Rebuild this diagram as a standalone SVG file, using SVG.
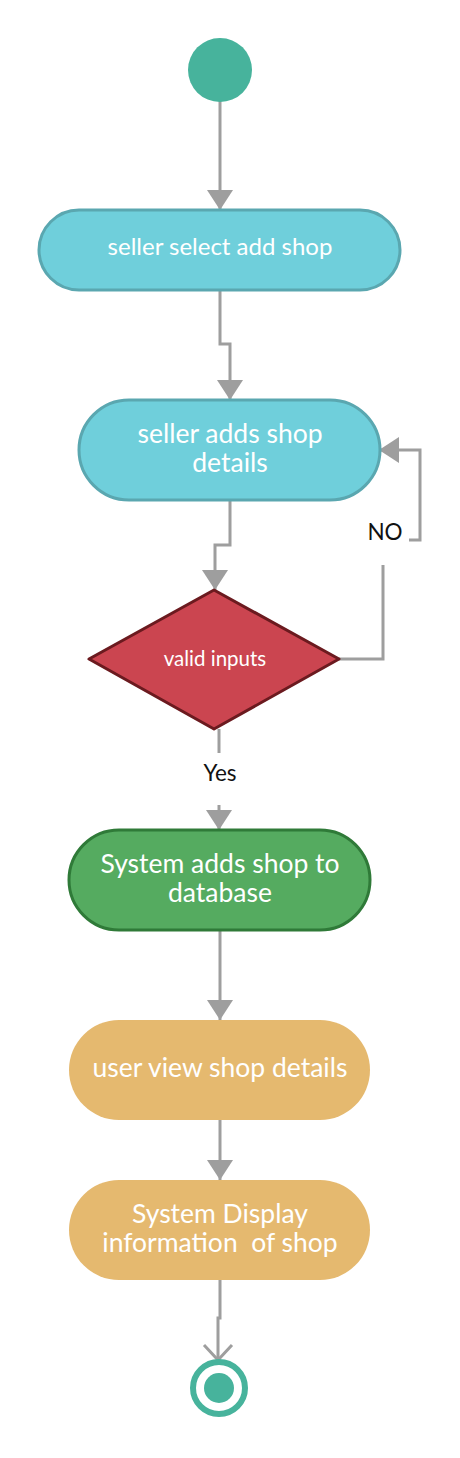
<svg xmlns="http://www.w3.org/2000/svg" width="460" height="1458" viewBox="0 0 460 1458">
<style>
.conn{fill:none;stroke:#9e9e9e;stroke-width:3}
.lbl{font-family:Lato,'Liberation Sans',sans-serif;fill:#ffffff;text-anchor:middle}
.clbl{font-family:Lato,'Liberation Sans',sans-serif;fill:#111111;text-anchor:middle;font-size:22.5px}
</style>
<defs>
<marker id="arr" markerUnits="userSpaceOnUse" viewBox="0 0 20 26" refX="20" refY="13" markerWidth="20" markerHeight="26" orient="auto">
<path d="M0,0 L20,13 L0,26 Z" fill="#9e9e9e"/>
</marker>
<marker id="open" markerUnits="userSpaceOnUse" viewBox="0 0 20 32" refX="17" refY="16" markerWidth="20" markerHeight="32" orient="auto">
<path d="M2,2 L17,16 L2,30" fill="none" stroke="#9e9e9e" stroke-width="3"/>
</marker>
</defs>
<g id="connectors">
<path class="conn" d="M220,100 V210" marker-end="url(#arr)"/>
<path class="conn" d="M220,290 V344 H230 V400" marker-end="url(#arr)"/>
<path class="conn" d="M230,500 V545 H215 V590" marker-end="url(#arr)"/>
<path class="conn" d="M339,659 H383 V565"/>
<path class="conn" d="M409,540 H420 V450 H379" marker-end="url(#arr)"/>
<text class="clbl" x="385" y="540">NO</text>
<path class="conn" d="M219,729 V753"/>
<text class="clbl" x="220" y="781">Yes</text>
<path class="conn" d="M219,805 V830" marker-end="url(#arr)"/>
<path class="conn" d="M220,930 V1020" marker-end="url(#arr)"/>
<path class="conn" d="M220,1120 V1180" marker-end="url(#arr)"/>
<path class="conn" d="M220,1280 V1318 H218 V1360" marker-end="url(#open)"/>
</g>
<g id="start">
<circle cx="220" cy="70" r="32" fill="#47b39c"/>
</g>
<g id="n1">
<rect x="39" y="210" width="361" height="80" rx="40" fill="#6fcfdb" stroke="#5aa7b0" stroke-width="3"/>
<text class="lbl" x="220" y="255" font-size="24">seller select add shop</text>
</g>
<g id="n2">
<rect x="79" y="400" width="301" height="100" rx="50" fill="#6fcfdb" stroke="#5aa7b0" stroke-width="3"/>
<text class="lbl" x="230" y="443" font-size="26.5">seller adds shop</text>
<text class="lbl" x="230" y="472" font-size="26.5">details</text>
</g>
<g id="decision">
<polygon points="214,590 339,659 214,729 89,659" fill="#cb4550" stroke="#6b1a1f" stroke-width="3" stroke-linejoin="round"/>
<text class="lbl" x="215" y="666" font-size="20.5">valid inputs</text>
</g>
<g id="n3">
<rect x="69" y="830" width="301" height="100" rx="50" fill="#55ab60" stroke="#2f7a38" stroke-width="3"/>
<text class="lbl" x="220" y="873" font-size="26.5">System adds shop to</text>
<text class="lbl" x="220" y="902" font-size="26.5">database</text>
</g>
<g id="n4">
<rect x="69" y="1020" width="301" height="100" rx="50" fill="#e5b96f"/>
<text class="lbl" x="220" y="1077" font-size="26.5">user view shop details</text>
</g>
<g id="n5">
<rect x="69" y="1180" width="301" height="100" rx="50" fill="#e5b96f"/>
<text class="lbl" x="220" y="1223" font-size="26.5">System Display</text>
<text class="lbl" x="220" y="1252" font-size="26.5" xml:space="preserve">information  of shop</text>
</g>
<g id="end">
<circle cx="219" cy="1388" r="26" fill="#ffffff" stroke="#47b39c" stroke-width="6"/>
<circle cx="219" cy="1388" r="15" fill="#47b39c"/>
</g>
</svg>
